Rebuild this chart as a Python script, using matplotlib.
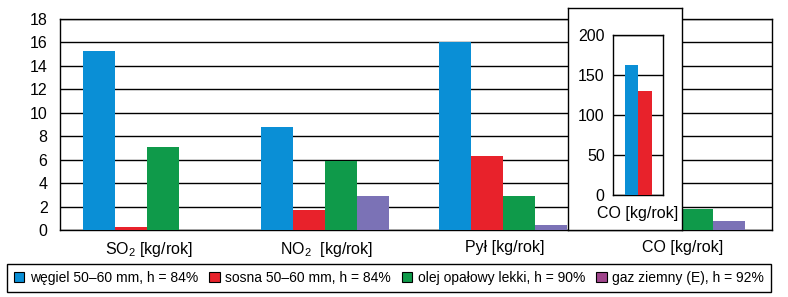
import matplotlib
matplotlib.use("Agg")
import matplotlib.pyplot as plt
from matplotlib.patches import Patch

plt.rcParams["font.family"] = ["Liberation Sans", "DejaVu Sans"]
plt.rcParams["mathtext.fontset"] = "custom"
plt.rcParams["mathtext.rm"] = "Liberation Sans"
plt.rcParams["mathtext.default"] = "rm"

categories = ["SO$_2$ [kg/rok]", "NO$_2$  [kg/rok]", "Pył [kg/rok]", "CO [kg/rok]"]
series = ["węgiel 50–60 mm, h = 84%", "sosna 50–60 mm, h = 84%",
          "olej opałowy lekki, h = 90%", "gaz ziemny (E), h = 92%"]
wegiel = [15.3, 8.75, 16.0, 162.5]
sosna = [0.25, 1.7, 6.3, 130.0]
olej = [7.1, 5.9, 2.9, 1.8]
gaz = [0.0, 2.9, 0.45, 0.75]
yticks = [0, 2, 4, 6, 8, 10, 12, 14, 16, 18]
inset_ticks = [0, 50, 100, 150, 200]

colors = ["#0a8fd6", "#e8222b", "#0f9a4a", "#7b72b6"]
legend_colors = ["#0a8fd6", "#e8222b", "#0f9a4a", "#a0458c"]

W, H = 788, 297
fig = plt.figure(figsize=(W / 100, H / 100), dpi=100, facecolor="white")

def rect(x0, y0, x1, y1):
    return [x0 / W, 1 - y1 / H, (x1 - x0) / W, (y1 - y0) / H]

ax = fig.add_axes(rect(60, 19, 772, 230))
values = [wegiel, sosna, olej, gaz]
bw = 0.18
for i, vals in enumerate(values):
    xs = [k + (i - 1.5) * bw - 0.01 for k in range(len(categories))]
    ax.bar(xs, vals, width=bw, color=colors[i], zorder=3)

ax.set_xlim(-0.5, 3.5)
ax.set_ylim(0, 18)
ax.set_yticks(yticks)
ax.set_xticks(range(len(categories)))
ax.set_xticklabels(categories, fontsize=11.5)
ax.tick_params(axis="both", length=0, labelsize=11.5)
ax.tick_params(axis="y", pad=9)
ax.tick_params(axis="x", pad=7)
ax.yaxis.grid(True, color="black", linewidth=1)
ax.set_axisbelow(True)
for s in ax.spines.values():
    s.set_color("black")
    s.set_linewidth(1)

# inset box covering the CO group
box = fig.add_axes(rect(568, 8, 682, 230))
box.set_facecolor("white")
box.set_xticks([])
box.set_yticks([])
for s in box.spines.values():
    s.set_linewidth(1)
box.set_zorder(5)

ins = fig.add_axes(rect(613, 35, 663, 195))
ins.set_zorder(6)
ins.bar([-0.135], [wegiel[3]], width=0.27, color=colors[0], zorder=3)
ins.bar([0.135], [sosna[3]], width=0.27, color=colors[1], zorder=3)
ins.set_xlim(-0.5, 0.5)
ins.set_ylim(0, 200)
ins.set_yticks(inset_ticks)
ins.set_xticks([0])
ins.set_xticklabels(["CO [kg/rok]"], fontsize=11.5)
ins.tick_params(axis="both", length=0, labelsize=11.5)
ins.tick_params(axis="y", pad=6)
ins.tick_params(axis="x", pad=8)
ins.yaxis.grid(True, color="black", linewidth=1)
ins.set_axisbelow(True)
for s in ins.spines.values():
    s.set_linewidth(1)

handles = [Patch(facecolor=c, edgecolor="black", linewidth=0.8) for c in legend_colors]
leg = fig.legend(handles, series, loc="center", ncol=4,
                 bbox_to_anchor=(389 / W, 1 - 278 / H),
                 fontsize=10, handlelength=0.75, handleheight=0.75, handletextpad=0.4,
                 columnspacing=0.8, borderpad=0.5, fancybox=False, framealpha=1,
                 borderaxespad=0)
leg.get_frame().set_edgecolor("black")
leg.get_frame().set_linewidth(1)

fig.savefig("out.png", dpi=100)
